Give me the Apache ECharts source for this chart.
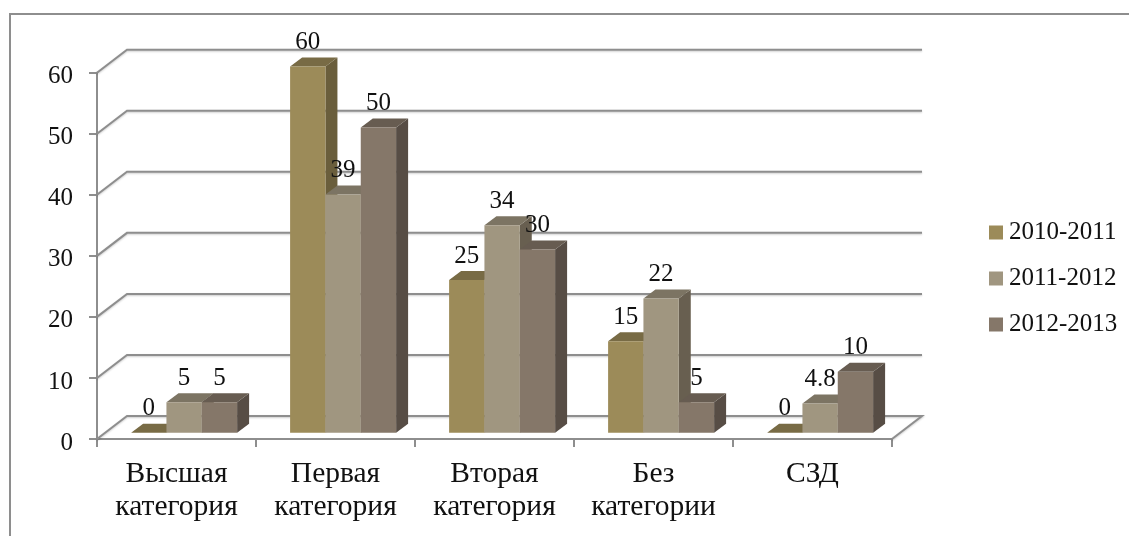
<!DOCTYPE html>
<html>
<head>
<meta charset="utf-8">
<style>
  html, body { margin: 0; padding: 0; background: #fff; }
  #chart { width: 1129px; height: 536px; }
</style>
<script src="https://cdn.jsdelivr.net/npm/echarts@6/dist/echarts.min.js"></script>
</head>
<body>
<div id="chart"></div>
<script>
var categories = ['Высшая\nкатегория', 'Первая\nкатегория', 'Вторая\nкатегория', 'Без\nкатегории', 'СЗД']
var years = ['2010-2011', '2011-2012', '2012-2013']
var values1 = [0, 60, 25, 15, 0]
var values2 = [5, 39, 34, 22, 4.8]
var values3 = [5, 50, 30, 5, 10]
var yTicks = [0, 10, 20, 30, 40, 50, 60]

// front, top, side
var shades = [
  ['#9c8b59', '#786b45', '#6a5e3c'],
  ['#a09680', '#7c7463', '#685f50'],
  ['#857769', '#675c51', '#574d45']
]
var lineColor = '#8e8e8e'
var font = '"Liberation Serif", serif'

// 3d depth of the wall and of the bars
var wallDx = 30
var wallDy = -23
var barDx = 12
var barDy = -9
var barShiftX = 7.6
var barShiftY = -6.3
var barRatio = 0.2222

function renderWall(params, api) {
  var rect = params.coordSys
  var p = api.coord([0, api.value(0)])
  var y = p[1]
  var left = rect.x
  var right = rect.x + rect.width
  var points = [[left, y], [left + wallDx, y + wallDy], [right + wallDx, y + wallDy]]
  if (api.value(0) === 0) {
    points.push([right, y])
  }
  return {
    type: 'polyline',
    shape: { points: points },
    style: {
      fill: null,
      stroke: lineColor,
      lineWidth: 2,
      shadowColor: 'rgba(0,0,0,0.2)',
      shadowBlur: 2,
      shadowOffsetY: 1
    }
  }
}

function barRenderer(index) {
  return function (params, api) {
    var value = api.value(1)
    var base = api.coord([api.value(0), 0])
    var top = api.coord([api.value(0), value])
    var w = api.size([1, 0])[0] * barRatio
    var x0 = base[0] + barShiftX + (index - 1.5) * w
    var x1 = x0 + w
    var y0 = top[1] + barShiftY
    var y1 = base[1] + barShiftY
    var c = shades[index]
    return {
      type: 'group',
      children: [
        {
          type: 'polygon',
          shape: { points: [[x1, y0], [x1 + barDx, y0 + barDy], [x1 + barDx, y1 + barDy], [x1, y1]] },
          style: { fill: c[2] }
        },
        {
          type: 'polygon',
          shape: { points: [[x0, y0], [x0 + barDx, y0 + barDy], [x1 + barDx, y0 + barDy], [x1, y0]] },
          style: { fill: c[1] }
        },
        {
          type: 'rect',
          shape: { x: x0, y: y0, width: w, height: y1 - y0 },
          style: { fill: c[0] }
        },
        {
          type: 'text',
          z2: 100,
          style: {
            x: x0 + w / 2,
            y: y0 - 24,
            text: String(value),
            fill: '#111',
            font: '25px ' + font,
            align: 'center',
            verticalAlign: 'middle'
          }
        }
      ]
    }
  }
}

function barSeries(index, values) {
  return {
    name: years[index],
    type: 'custom',
    z: 3,
    renderItem: barRenderer(index),
    itemStyle: { color: shades[index][0] },
    encode: { x: 0, y: 1 },
    data: values.map(function (v, i) { return [i, v] })
  }
}

var chart = echarts.init(document.getElementById('chart'))
chart.setOption({
  animation: false,
  backgroundColor: '#fff',
  graphic: [{
    type: 'polyline',
    silent: true,
    shape: { points: [[10, 536], [10, 14], [1129, 14]] },
    style: { fill: null, stroke: lineColor, lineWidth: 2 }
  }],
  grid: { left: 97, right: 237, top: 72.7, bottom: 97 },
  legend: {
    orient: 'vertical',
    left: 984,
    top: 215,
    itemWidth: 14,
    itemHeight: 14,
    itemGap: 21,
    icon: 'rect',
    data: years,
    textStyle: { fontFamily: font, fontSize: 25, color: '#111', padding: [0, 0, 0, 1] }
  },
  xAxis: {
    type: 'category',
    data: categories,
    axisLine: { lineStyle: { color: lineColor, width: 2 } },
    axisTick: { show: true, alignWithLabel: false, length: 8, lineStyle: { color: lineColor, width: 2 } },
    axisLabel: {
      interval: 0,
      fontFamily: font,
      fontSize: 29.5,
      lineHeight: 33.5,
      color: '#111',
      margin: 18
    }
  },
  yAxis: {
    type: 'value',
    min: 0,
    max: 60,
    interval: 10,
    splitLine: { show: false },
    axisLine: { show: true, lineStyle: { color: lineColor, width: 2 } },
    axisTick: { show: true, length: 8, lineStyle: { color: lineColor, width: 2 } },
    // labels sit a little below their tick in the original
    axisLabel: { fontFamily: font, fontSize: 25, color: '#111', margin: 24, verticalAlign: 'top', lineHeight: 8 }
  },
  series: [
    {
      type: 'custom',
      z: 1,
      silent: true,
      renderItem: renderWall,
      encode: { y: 0 },
      data: yTicks.map(function (v) { return [v] })
    },
    barSeries(0, values1),
    barSeries(1, values2),
    barSeries(2, values3)
  ]
})
</script>
</body>
</html>
